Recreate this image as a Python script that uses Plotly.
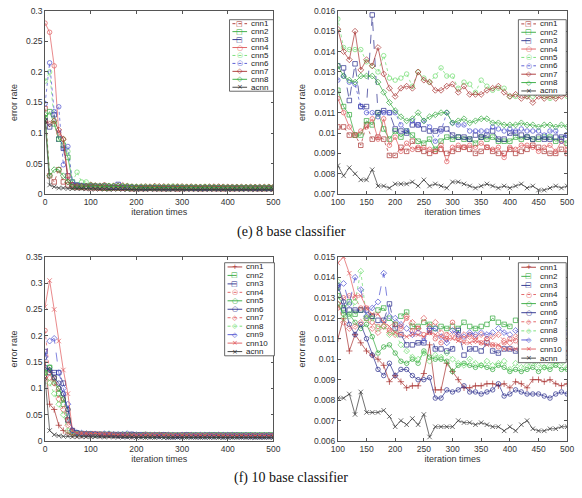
import plotly.graph_objects as go

W, H = 582, 498

# ---------------- data ----------------
iters = list(range(0, 510, 10))  # iteration times 0..500

# (e) 8 base classifier
e_cnn1 = [0.14, 0.03, 0.02, 0.04, 0.02, 0.015, 0.012, 0.011, 0.011, 0.0105,
          .0103, .0103, .0099, .0099, .0094, .0104, .0097, .0098, .0097, .0089,
          .0089, .0093, .0091, .0096, .0092, .0091, .0090, .0091, .0092, .0090,
          .0091, .0092, .0093, .0092, .0090, .0091, .0093, .0091, .0090, .0090,
          .0092, .0090, .0091, .0092, .0094, .0093, .0091, .0090, .0090, .0092, .0090]
e_cnn2 = [0.125, 0.135, 0.115, 0.09, 0.08, 0.06, 0.02, 0.015, 0.014, 0.013,
          .0121, .0113, .0109, .0099, .0099, .0106, .0104, .0110, .0102, .0097,
          .0101, .0098, .0101, .0099, .0096, .0095, .0097, .0092, .0096, .0098,
          .0097, .0098, .0097, .0097, .0095, .0098, .0097, .0098, .0096, .0096,
          .0096, .0098, .0097, .0098, .0097, .0097, .0098, .0098, .0096, .0097, .0095]
e_cnn3 = [0.12, 0.11, 0.13, 0.09, 0.075, 0.03, 0.015, 0.014, 0.013, 0.013,
          .0133, .0132, .0116, .0134, .0113, .0113, .0158, .0110, .0111, .0110,
          .0102, .0101, .0100, .0104, .0104, .0102, .0101, .0101, .0102, .0102,
          .0099, .0098, .0098, .0097, .0099, .0098, .0099, .0101, .0097, .0097,
          .0100, .0100, .0099, .0098, .0097, .0098, .0097, .0097, .0098, .0098, .0099]
e_cnn4 = [0.28, 0.265, 0.21, 0.10, 0.09, 0.03, 0.015, 0.013, 0.012, 0.013,
          .0117, .0110, .0103, .0099, .0101, .0103, .0107, .0097, .0107, .0094,
          .0098, .0091, .0095, .0092, .0093, .0093, .0092, .0091, .0094, .0086,
          .0093, .0094, .0093, .0094, .0093, .0095, .0093, .0092, .0093, .0088,
          .0093, .0092, .0094, .0094, .0093, .0091, .0093, .0094, .0091, .0096, .0092]
e_cnn5 = [0.185, 0.20, 0.12, 0.09, 0.09, 0.07, 0.02, 0.036, 0.02, 0.02,
          .0156, .0142, .0141, .0141, .0141, .0135, .0133, .0130, .0138, .0127,
          .0126, .0127, .0129, .0123, .0130, .0127, .0125, .0128, .0132, .0128,
          .0128, .0122, .0125, .0124, .0120, .0126, .0123, .0121, .0122, .0122,
          .0118, .0118, .0120, .0118, .0118, .0120, .0118, .0117, .0118, .0121, .0118]
e_cnn6 = [0.148, 0.215, 0.135, 0.143, 0.048, 0.078, 0.02, 0.015, 0.014, 0.013,
          .0126, .0128, .0125, .0124, .0113, .0110, .0110, .0108, .0110, .0110,
          .0110, .0104, .0101, .0106, .0104, .0106, .0103, .0096, .0101, .0110,
          .0105, .0104, .0104, .0101, .0101, .0101, .0101, .0103, .0102, .0101,
          .0102, .0101, .0102, .0101, .0101, .0101, .0099, .0101, .0101, .0096, .0099]
e_cnn7 = [0.12, 0.115, 0.12, 0.105, 0.09, 0.02, 0.015, 0.013, 0.013, 0.013,
          .0151, .0140, .0136, .0150, .0131, .0136, .0133, .0142, .0129, .0122,
          .0118, .0122, .0123, .0122, .0130, .0126, .0125, .0121, .0121, .0123,
          .0124, .0120, .0123, .0119, .0119, .0119, .0121, .0122, .0123, .0120,
          .0118, .0119, .0117, .0118, .0115, .0118, .0117, .0118, .0117, .0118, .0119]
e_cnn8 = [0.13, 0.03, 0.04, 0.04, 0.03, 0.02, 0.012, 0.012, 0.012, 0.012,
          .0133, .0128, .0126, .0125, .0128, .0128, .0128, .0125, .0120, .0115,
          .0111, .0108, .0106, .0107, .0110, .0106, .0108, .0109, .0110, .0110,
          .0105, .0106, .0107, .0105, .0106, .0107, .0107, .0105, .0105, .0104,
          .0104, .0104, .0105, .0104, .0104, .0103, .0104, .0104, .0103, .0104, .0103]
e_acnn = [0.12, 0.015, 0.012, 0.010, 0.010, 0.009, 0.009, 0.009, 0.009, 0.0085,
          .0084, .0079, .0083, .0080, .0077, .0077, .0082, .0074, .0074, .0073,
          .0075, .0075, .0075, .0076, .0074, .0077, .0074, .0075, .0074, .0073,
          .0076, .0076, .0075, .0074, .0073, .0074, .0075, .0074, .0073, .0074,
          .0073, .0074, .0075, .0073, .0074, .0072, .0072, .0073, .0074, .0073, .0074]

# (f) 10 base classifier
f_cnn1 = [0.15, 0.07, 0.06, 0.03, 0.02, 0.015, 0.012, 0.011, 0.011, 0.011,
          .0110, .0120, .0104, .0112, .0108, .0104, .0102, .0100, .0097, .0089,
          .0092, .0089, .0086, .0087, .0087, .0093, .0107, .0085, .0085, .0098,
          .0094, .0090, .0086, .0086, .0087, .0087, .0088, .0088, .0087, .0088,
          .0086, .0089, .0088, .0086, .0090, .0090, .0089, .0090, .0088, .0087, .0088]
f_cnn2 = [0.13, 0.14, 0.12, 0.09, 0.07, 0.04, 0.018, 0.015, 0.014, 0.013,
          .0131, .0125, .0128, .0122, .0124, .0120, .0121, .0124, .0125, .0120,
          .0117, .0121, .0123, .0116, .0116, .0118, .0117, .0115, .0116, .0115,
          .0116, .0115, .0118, .0116, .0115, .0116, .0117, .0120, .0118, .0117,
          .0116, .0119, .0119, .0118, .0116, .0118, .0116, .0117, .0117, .0118, .0117]
f_cnn3 = [0.17, 0.13, 0.13, 0.13, 0.11, 0.04, 0.02, 0.015, 0.014, 0.013,
          .0135, .0124, .0124, .0124, .0124, .0124, .0121, .0119, .0119, .0127,
          .0115, .0112, .0107, .0107, .0108, .0108, .0114, .0105, .0105, .0104,
          .0105, .0114, .0102, .0105, .0105, .0104, .0108, .0104, .0103, .0105,
          .0105, .0104, .0102, .0101, .0103, .0102, .0100, .0100, .0101, .0100, .0103]
f_cnn4 = [0.21, 0.13, 0.12, 0.10, 0.08, 0.04, 0.015, 0.013, 0.013, 0.013,
          .0125, .0130, .0131, .0130, .0125, .0125, .0118, .0116, .0116, .0114,
          .0117, .0116, .0120, .0114, .0115, .0112, .0113, .0110, .0108, .0112,
          .0118, .0111, .0110, .0112, .0111, .0108, .0110, .0107, .0106, .0108,
          .0110, .0109, .0105, .0103, .0104, .0107, .0106, .0105, .0108, .0109, .0109]
f_cnn5 = [0.13, 0.14, 0.11, 0.10, 0.08, 0.06, 0.02, 0.015, 0.014, 0.013,
          .0127, .0122, .0122, .0118, .0115, .0117, .0111, .0103, .0106, .0107,
          .0103, .0099, .0098, .0100, .0098, .0104, .0101, .0100, .0100, .0099,
          .0094, .0097, .0098, .0097, .0096, .0097, .0096, .0095, .0097, .0096,
          .0094, .0095, .0094, .0095, .0096, .0094, .0096, .0095, .0097, .0095, .0095]
f_cnn6 = [0.14, 0.135, 0.12, 0.11, 0.09, 0.06, 0.02, 0.016, 0.014, 0.014,
          .0136, .0128, .0117, .0112, .0117, .0110, .0102, .0095, .0092, .0098,
          .0092, .0095, .0095, .0092, .0090, .0090, .0091, .0081, .0081, .0085,
          .0084, .0085, .0087, .0084, .0084, .0083, .0084, .0085, .0088, .0082,
          .0083, .0085, .0084, .0083, .0083, .0083, .0082, .0081, .0083, .0084, .0083]
f_cnn7 = [0.12, 0.12, 0.11, 0.08, 0.06, 0.03, 0.014, 0.013, 0.013, 0.013,
          .0127, .0118, .0115, .0116, .0118, .0120, .0115, .0113, .0116, .0113,
          .0112, .0115, .0121, .0118, .0115, .0120, .0116, .0118, .0113, .0110,
          .0112, .0110, .0112, .0111, .0109, .0112, .0110, .0111, .0112, .0109,
          .0108, .0111, .0112, .0107, .0109, .0108, .0110, .0108, .0107, .0109, .0108]
f_cnn8 = [0.13, 0.11, 0.09, 0.07, 0.05, 0.02, 0.015, 0.014, 0.014, 0.014,
          .0138, .0120, .0121, .0128, .0143, .0120, .0120, .0115, .0116, .0112,
          .0113, .0107, .0104, .0101, .0100, .0103, .0099, .0102, .0101, .0103,
          .0100, .0098, .0097, .0100, .0098, .0097, .0099, .0097, .0098, .0099,
          .0095, .0098, .0096, .0097, .0098, .0097, .0096, .0097, .0098, .0098, .0096]
f_cnn9 = [0.16, 0.19, 0.195, 0.13, 0.10, 0.07, 0.02, 0.016, 0.015, 0.014,
          .0136, .0137, .0127, .0140, .0134, .0121, .0125, .0128, .0142, .0121,
          .0120, .0117, .0115, .0112, .0113, .0109, .0115, .0115, .0111, .0108,
          .0114, .0112, .0111, .0113, .0112, .0113, .0112, .0113, .0115, .0113,
          .0112, .0114, .0113, .0110, .0112, .0111, .0111, .0111, .0110, .0111, .0113]
f_cnn10 = [0.255, 0.305, 0.25, 0.19, 0.135, 0.09, 0.02, 0.015, 0.015, 0.015,
           .0147, .0150, .0142, .0131, .0131, .0125, .0122, .0122, .0118, .0116,
           .0113, .0112, .0111, .0112, .0112, .0111, .0113, .0112, .0111, .0110,
           .0110, .0109, .0108, .0108, .0109, .0108, .0107, .0107, .0107, .0105,
           .0105, .0105, .0105, .0104, .0104, .0104, .0104, .0103, .0103, .0104, .0104]
f_acnn = [0.12, 0.02, 0.012, 0.010, 0.009, 0.009, 0.008, 0.008, 0.008, 0.008,
          .0081, .0081, .0083, .0073, .0084, .0074, .0074, .0074, .0075, .0072,
          .0067, .0070, .0068, .0071, .0068, .0073, .0062, .0067, .0067, .0067,
          .0067, .0070, .0069, .0069, .0068, .0069, .0068, .0067, .0067, .0065,
          .0067, .0065, .0068, .0070, .0066, .0065, .0065, .0066, .0066, .0067, .0067]

e_names = ["cnn1", "cnn2", "cnn3", "cnn4", "cnn5", "cnn6", "cnn7", "cnn8", "acnn"]
e_values = [e_cnn1, e_cnn2, e_cnn3, e_cnn4, e_cnn5, e_cnn6, e_cnn7, e_cnn8, e_acnn]
f_names = ["cnn1", "cnn2", "cnn3", "cnn4", "cnn5", "cnn6", "cnn7", "cnn8", "cnn9", "cnn10", "acnn"]
f_values = [f_cnn1, f_cnn2, f_cnn3, f_cnn4, f_cnn5, f_cnn6, f_cnn7, f_cnn8, f_cnn9, f_cnn10, f_acnn]

e_left_yticks = [0, 0.05, 0.1, 0.15, 0.2, 0.25, 0.3]
e_right_yticks = [0.007, 0.008, 0.009, 0.01, 0.011, 0.012, 0.013, 0.014, 0.015, 0.016]
f_left_yticks = [0, 0.05, 0.1, 0.15, 0.2, 0.25, 0.3, 0.35]
f_right_yticks = [0.006, 0.007, 0.008, 0.009, 0.01, 0.011, 0.012, 0.013, 0.014, 0.015]
left_xticks = [0, 100, 200, 300, 400, 500]
right_xticks = [100, 150, 200, 250, 300, 350, 400, 450, 500]

for v in e_values + f_values:
    assert len(v) == len(iters), len(v)

# ---------------- styles ----------------
DR, RD, GR, LG, DB, BL, BK = "#a8302f", "#e0585a", "#2fa83a", "#6fdc6f", "#262a8a", "#4b4fd0", "#333333"
# (color, marker symbol, dash, legend glyph)
e_styles = [
    (DR, "square-open", "dot", "□"),
    (GR, "square-open", "solid", "□"),
    (DB, "square-open", "dash", "□"),
    (RD, "circle-open", "solid", "○"),
    (LG, "circle-open", "dot", "○"),
    (BL, "circle-open", "dot", "○"),
    (DR, "diamond-open", "solid", "◇"),
    (GR, "diamond-open", "solid", "◇"),
    (BK, "x-thin-open", "solid", "×"),
]
f_styles = [
    (DR, "cross-thin-open", "solid", "+"),
    (GR, "square-open", "dash", "□"),
    (DB, "square-open", "dash", "□"),
    (RD, "circle-open", "dot", "○"),
    (GR, "circle-open", "solid", "○"),
    (DB, "circle-open", "solid", "○"),
    (RD, "diamond-open", "dot", "◇"),
    (LG, "diamond-open", "dot", "◇"),
    (BL, "diamond-open", "dash", "◇"),
    (RD, "x-thin-open", "solid", "×"),
    (BK, "x-thin-open", "solid", "×"),
]

fig = go.Figure()

def add_series(names, values, styles, xa, ya):
    for n, v, (c, sym, dash, _) in zip(names, values, styles):
        fig.add_trace(go.Scatter(
            x=iters, y=v, name=n, mode="lines+markers", showlegend=False,
            xaxis=xa, yaxis=ya,
            line=dict(color=c, width=0.7, dash=dash),
            marker=dict(symbol=sym, size=4.5, color=c, line=dict(color=c, width=0.7)),
        ))

add_series(e_names, e_values, e_styles, "x", "y")
add_series(e_names, e_values, e_styles, "x2", "y2")
add_series(f_names, f_values, f_styles, "x3", "y3")
add_series(f_names, f_values, f_styles, "x4", "y4")

def px_x(p):
    return p / W

def px_y(p):
    return 1 - p / H

tickfont = dict(family="Liberation Sans, Arial, sans-serif", size=8.5, color="#333")
titlefont = dict(family="Liberation Sans, Arial, sans-serif", size=9, color="#333")
common = dict(showline=True, linecolor="#555", linewidth=0.8, mirror="allticks",
              ticks="inside", ticklen=3, tickwidth=0.7, tickcolor="#555",
              showgrid=False, zeroline=False, tickfont=tickfont)

LX = [px_x(39), px_x(273)]
RX = [px_x(339), px_x(574)]
TY = [px_y(193), px_y(6)]
BY = [px_y(445), px_y(257)]

def xax(dom, anchor, rng, ticks):
    return dict(domain=dom, anchor=anchor, range=rng, tickvals=ticks,
                title=dict(text="iteration times", font=titlefont, standoff=2), **common)

def yax(dom, anchor, rng, ticks):
    return dict(domain=dom, anchor=anchor, range=rng, tickvals=ticks,
                title=dict(text="error rate", font=titlefont, standoff=6), **common)

fig.update_layout(
    width=W, height=H, margin=dict(l=0, r=0, t=0, b=0),
    paper_bgcolor="white", plot_bgcolor="white", showlegend=False,
    xaxis=xax(LX, "y", [0, 500], left_xticks),
    yaxis=yax(TY, "x", [0, 0.3], e_left_yticks),
    xaxis2=xax(RX, "y2", [100, 500], right_xticks),
    yaxis2=yax(TY, "x2", [0.007, 0.016], e_right_yticks),
    xaxis3=xax(LX, "y3", [0, 500], left_xticks),
    yaxis3=yax(BY, "x3", [0, 0.35], f_left_yticks),
    xaxis4=xax(RX, "y4", [100, 500], right_xticks),
    yaxis4=yax(BY, "x4", [0.006, 0.015], f_right_yticks),
)

shapes, annots = [], []

def add_legend(x0, y0, x1, y1, names, styles):
    shapes.append(dict(type="rect", xref="paper", yref="paper",
                       x0=px_x(x0), x1=px_x(x1), y0=px_y(y1), y1=px_y(y0),
                       fillcolor="white", line=dict(color="#444", width=0.8)))
    n = len(names)
    h = (y1 - y0) / n
    for i, (nm, (c, sym, dash, glyph)) in enumerate(zip(names, styles)):
        cy = y0 + h * (i + 0.5)
        shapes.append(dict(type="line", xref="paper", yref="paper",
                           x0=px_x(x0 + 3), x1=px_x(x0 + 18), y0=px_y(cy), y1=px_y(cy),
                           line=dict(color=c, width=0.9, dash=dash)))
        annots.append(dict(xref="paper", yref="paper", x=px_x(x0 + 10.5), y=px_y(cy),
                           text=glyph, showarrow=False, xanchor="center", yanchor="middle",
                           font=dict(family="DejaVu Sans", size=7, color=c)))
        annots.append(dict(xref="paper", yref="paper", x=px_x(x0 + 20), y=px_y(cy),
                           text=nm, showarrow=False, xanchor="left", yanchor="middle",
                           font=dict(family="Liberation Sans, Arial, sans-serif", size=8, color="#222")))

add_legend(228, 15, 273, 88, e_names, e_styles)
add_legend(524, 15, 573, 92, e_names, e_styles)
add_legend(223, 263, 274, 358, f_names, f_styles)
add_legend(524, 263, 573, 365, f_names, f_styles)

capfont = dict(family="Liberation Serif, Times New Roman, serif", size=14, color="#111")
annots.append(dict(xref="paper", yref="paper", x=0.5, y=px_y(232), text="(e) 8 base classifier",
                   showarrow=False, xanchor="center", yanchor="middle", font=capfont))
annots.append(dict(xref="paper", yref="paper", x=0.5, y=px_y(483), text="(f) 10 base classifier",
                   showarrow=False, xanchor="center", yanchor="middle", font=capfont))

fig.update_layout(shapes=shapes, annotations=annots)
fig.write_html("out.html", config={"displayModeBar": False},
               post_script="document.body.style.margin='0';")
